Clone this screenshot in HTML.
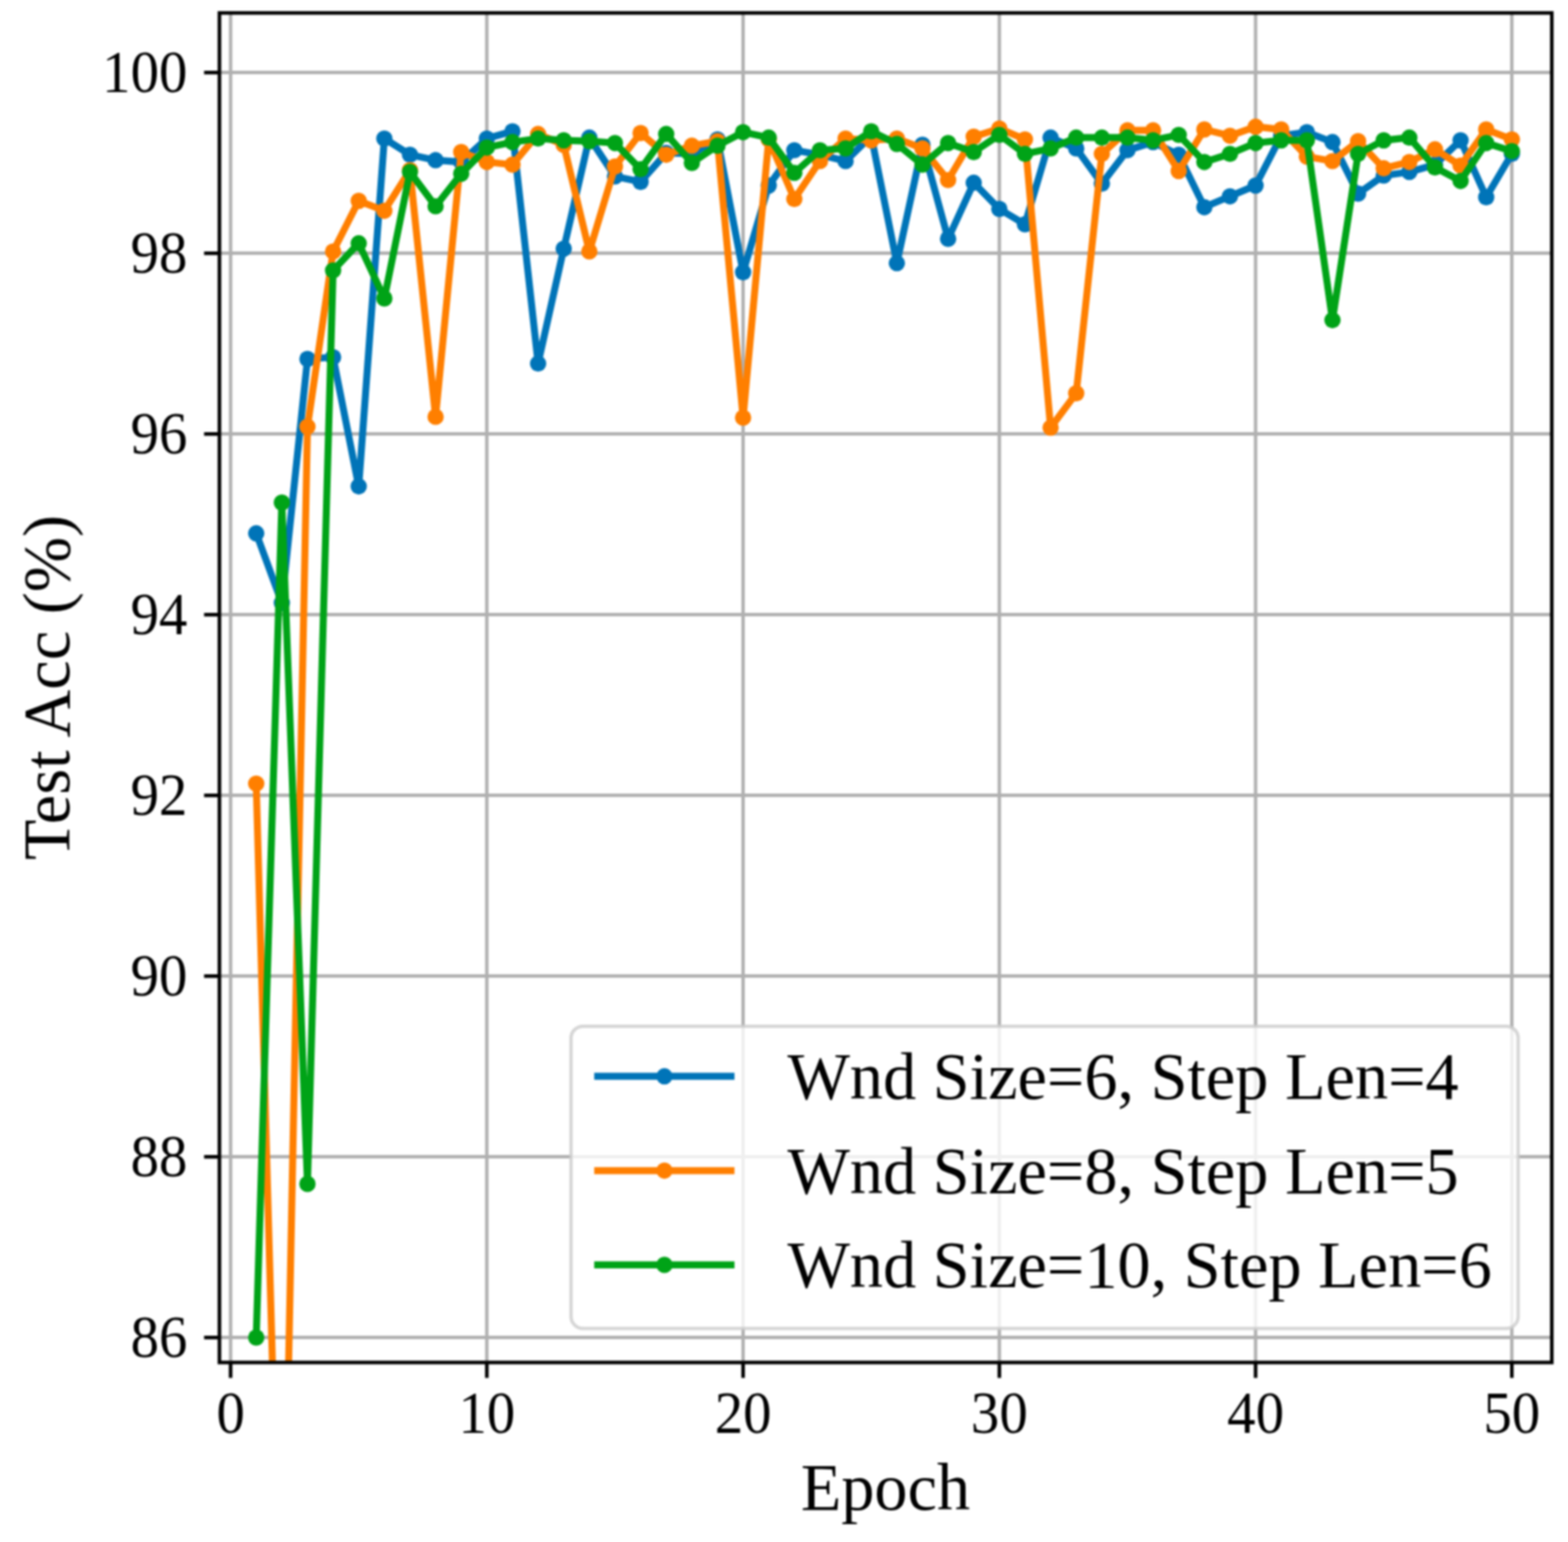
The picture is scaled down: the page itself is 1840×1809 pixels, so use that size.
<!DOCTYPE html>
<html><head><meta charset="utf-8"><title>Test Acc vs Epoch</title>
<style>html,body{margin:0;padding:0;background:#fff;} svg{display:block;} #wrap{filter:blur(0.8px);width:1840px;height:1809px;}</style>
</head><body>
<div id="wrap"><svg width="1840" height="1809" viewBox="0 0 1840 1809">
<rect x="0" y="0" width="1840" height="1809" fill="#ffffff"/>
<defs><clipPath id="ax"><rect x="257.5" y="15.2" width="1563.5" height="1583.2"/></clipPath></defs>
<path d="M270.60 15.2V1598.4M571.30 15.2V1598.4M872.00 15.2V1598.4M1172.70 15.2V1598.4M1473.40 15.2V1598.4M1774.10 15.2V1598.4M257.5 1569.10H1821.0M257.5 1357.10H1821.0M257.5 1145.10H1821.0M257.5 933.10H1821.0M257.5 721.10H1821.0M257.5 509.10H1821.0M257.5 297.10H1821.0M257.5 85.10H1821.0" stroke="#b0b0b0" stroke-width="4.0" fill="none" clip-path="url(#ax)"/>
<path d="M270.60 1598.4v18.0M571.30 1598.4v18.0M872.00 1598.4v18.0M1172.70 1598.4v18.0M1473.40 1598.4v18.0M1774.10 1598.4v18.0M257.5 1569.10h-18.0M257.5 1357.10h-18.0M257.5 1145.10h-18.0M257.5 933.10h-18.0M257.5 721.10h-18.0M257.5 509.10h-18.0M257.5 297.10h-18.0M257.5 85.10h-18.0" stroke="#000" stroke-width="4.2" fill="none"/>
<g clip-path="url(#ax)">
<path d="M300.67 625.70 L330.74 707.32 L360.81 421.12 L390.88 419.00 L420.95 570.58 L451.02 162.48 L481.09 181.56 L511.16 187.92 L541.23 190.04 L571.30 162.48 L601.37 154.00 L631.44 426.42 L661.51 291.80 L691.58 161.42 L721.65 207.00 L751.72 213.36 L781.79 179.44 L811.86 180.50 L841.93 163.54 L872.00 319.36 L902.07 217.60 L932.14 176.26 L962.21 181.56 L992.28 188.98 L1022.35 159.30 L1052.42 308.76 L1082.49 169.90 L1112.56 280.14 L1142.63 214.42 L1172.70 245.16 L1202.77 263.18 L1232.84 161.42 L1262.91 174.14 L1292.98 215.48 L1323.05 176.26 L1353.12 166.72 L1383.19 181.56 L1413.26 243.04 L1443.33 230.32 L1473.40 217.60 L1503.47 159.30 L1533.54 155.06 L1563.61 166.72 L1593.68 227.14 L1623.75 205.94 L1653.82 201.70 L1683.89 193.22 L1713.96 164.60 L1744.03 231.38 L1774.10 180.50" stroke="#0074b8" stroke-width="8.2" fill="none" stroke-linejoin="round" stroke-linecap="butt"/>
<g fill="#0074b8">
<circle cx="300.67" cy="625.70" r="9.6"/>
<circle cx="330.74" cy="707.32" r="9.6"/>
<circle cx="360.81" cy="421.12" r="9.6"/>
<circle cx="390.88" cy="419.00" r="9.6"/>
<circle cx="420.95" cy="570.58" r="9.6"/>
<circle cx="451.02" cy="162.48" r="9.6"/>
<circle cx="481.09" cy="181.56" r="9.6"/>
<circle cx="511.16" cy="187.92" r="9.6"/>
<circle cx="541.23" cy="190.04" r="9.6"/>
<circle cx="571.30" cy="162.48" r="9.6"/>
<circle cx="601.37" cy="154.00" r="9.6"/>
<circle cx="631.44" cy="426.42" r="9.6"/>
<circle cx="661.51" cy="291.80" r="9.6"/>
<circle cx="691.58" cy="161.42" r="9.6"/>
<circle cx="721.65" cy="207.00" r="9.6"/>
<circle cx="751.72" cy="213.36" r="9.6"/>
<circle cx="781.79" cy="179.44" r="9.6"/>
<circle cx="811.86" cy="180.50" r="9.6"/>
<circle cx="841.93" cy="163.54" r="9.6"/>
<circle cx="872.00" cy="319.36" r="9.6"/>
<circle cx="902.07" cy="217.60" r="9.6"/>
<circle cx="932.14" cy="176.26" r="9.6"/>
<circle cx="962.21" cy="181.56" r="9.6"/>
<circle cx="992.28" cy="188.98" r="9.6"/>
<circle cx="1022.35" cy="159.30" r="9.6"/>
<circle cx="1052.42" cy="308.76" r="9.6"/>
<circle cx="1082.49" cy="169.90" r="9.6"/>
<circle cx="1112.56" cy="280.14" r="9.6"/>
<circle cx="1142.63" cy="214.42" r="9.6"/>
<circle cx="1172.70" cy="245.16" r="9.6"/>
<circle cx="1202.77" cy="263.18" r="9.6"/>
<circle cx="1232.84" cy="161.42" r="9.6"/>
<circle cx="1262.91" cy="174.14" r="9.6"/>
<circle cx="1292.98" cy="215.48" r="9.6"/>
<circle cx="1323.05" cy="176.26" r="9.6"/>
<circle cx="1353.12" cy="166.72" r="9.6"/>
<circle cx="1383.19" cy="181.56" r="9.6"/>
<circle cx="1413.26" cy="243.04" r="9.6"/>
<circle cx="1443.33" cy="230.32" r="9.6"/>
<circle cx="1473.40" cy="217.60" r="9.6"/>
<circle cx="1503.47" cy="159.30" r="9.6"/>
<circle cx="1533.54" cy="155.06" r="9.6"/>
<circle cx="1563.61" cy="166.72" r="9.6"/>
<circle cx="1593.68" cy="227.14" r="9.6"/>
<circle cx="1623.75" cy="205.94" r="9.6"/>
<circle cx="1653.82" cy="201.70" r="9.6"/>
<circle cx="1683.89" cy="193.22" r="9.6"/>
<circle cx="1713.96" cy="164.60" r="9.6"/>
<circle cx="1744.03" cy="231.38" r="9.6"/>
<circle cx="1774.10" cy="180.50" r="9.6"/>
</g></g>
<g clip-path="url(#ax)">
<path d="M300.67 919.32 L330.74 1993.10 L360.81 500.62 L390.88 294.98 L420.95 235.62 L451.02 247.28 L481.09 199.58 L511.16 488.96 L541.23 178.38 L571.30 190.04 L601.37 193.22 L631.44 157.18 L661.51 169.90 L691.58 294.98 L721.65 195.34 L751.72 156.12 L781.79 181.56 L811.86 170.96 L841.93 165.66 L872.00 490.02 L902.07 163.54 L932.14 233.50 L962.21 188.98 L992.28 162.48 L1022.35 164.60 L1052.42 162.48 L1082.49 174.14 L1112.56 211.24 L1142.63 160.36 L1172.70 150.82 L1202.77 163.54 L1232.84 501.68 L1262.91 461.40 L1292.98 180.50 L1323.05 152.94 L1353.12 152.94 L1383.19 200.64 L1413.26 151.88 L1443.33 159.30 L1473.40 148.70 L1503.47 151.88 L1533.54 183.68 L1563.61 188.98 L1593.68 165.66 L1623.75 197.46 L1653.82 190.04 L1683.89 175.20 L1713.96 194.28 L1744.03 151.88 L1774.10 163.54" stroke="#ff7f00" stroke-width="8.2" fill="none" stroke-linejoin="round" stroke-linecap="butt"/>
<g fill="#ff7f00">
<circle cx="300.67" cy="919.32" r="9.6"/>
<circle cx="330.74" cy="1993.10" r="9.6"/>
<circle cx="360.81" cy="500.62" r="9.6"/>
<circle cx="390.88" cy="294.98" r="9.6"/>
<circle cx="420.95" cy="235.62" r="9.6"/>
<circle cx="451.02" cy="247.28" r="9.6"/>
<circle cx="481.09" cy="199.58" r="9.6"/>
<circle cx="511.16" cy="488.96" r="9.6"/>
<circle cx="541.23" cy="178.38" r="9.6"/>
<circle cx="571.30" cy="190.04" r="9.6"/>
<circle cx="601.37" cy="193.22" r="9.6"/>
<circle cx="631.44" cy="157.18" r="9.6"/>
<circle cx="661.51" cy="169.90" r="9.6"/>
<circle cx="691.58" cy="294.98" r="9.6"/>
<circle cx="721.65" cy="195.34" r="9.6"/>
<circle cx="751.72" cy="156.12" r="9.6"/>
<circle cx="781.79" cy="181.56" r="9.6"/>
<circle cx="811.86" cy="170.96" r="9.6"/>
<circle cx="841.93" cy="165.66" r="9.6"/>
<circle cx="872.00" cy="490.02" r="9.6"/>
<circle cx="902.07" cy="163.54" r="9.6"/>
<circle cx="932.14" cy="233.50" r="9.6"/>
<circle cx="962.21" cy="188.98" r="9.6"/>
<circle cx="992.28" cy="162.48" r="9.6"/>
<circle cx="1022.35" cy="164.60" r="9.6"/>
<circle cx="1052.42" cy="162.48" r="9.6"/>
<circle cx="1082.49" cy="174.14" r="9.6"/>
<circle cx="1112.56" cy="211.24" r="9.6"/>
<circle cx="1142.63" cy="160.36" r="9.6"/>
<circle cx="1172.70" cy="150.82" r="9.6"/>
<circle cx="1202.77" cy="163.54" r="9.6"/>
<circle cx="1232.84" cy="501.68" r="9.6"/>
<circle cx="1262.91" cy="461.40" r="9.6"/>
<circle cx="1292.98" cy="180.50" r="9.6"/>
<circle cx="1323.05" cy="152.94" r="9.6"/>
<circle cx="1353.12" cy="152.94" r="9.6"/>
<circle cx="1383.19" cy="200.64" r="9.6"/>
<circle cx="1413.26" cy="151.88" r="9.6"/>
<circle cx="1443.33" cy="159.30" r="9.6"/>
<circle cx="1473.40" cy="148.70" r="9.6"/>
<circle cx="1503.47" cy="151.88" r="9.6"/>
<circle cx="1533.54" cy="183.68" r="9.6"/>
<circle cx="1563.61" cy="188.98" r="9.6"/>
<circle cx="1593.68" cy="165.66" r="9.6"/>
<circle cx="1623.75" cy="197.46" r="9.6"/>
<circle cx="1653.82" cy="190.04" r="9.6"/>
<circle cx="1683.89" cy="175.20" r="9.6"/>
<circle cx="1713.96" cy="194.28" r="9.6"/>
<circle cx="1744.03" cy="151.88" r="9.6"/>
<circle cx="1774.10" cy="163.54" r="9.6"/>
</g></g>
<g clip-path="url(#ax)">
<path d="M300.67 1569.10 L330.74 589.66 L360.81 1388.90 L390.88 317.24 L420.95 285.44 L451.02 350.10 L481.09 201.70 L511.16 241.98 L541.23 203.82 L571.30 173.08 L601.37 166.72 L631.44 162.48 L661.51 164.60 L691.58 165.66 L721.65 167.78 L751.72 198.52 L781.79 157.18 L811.86 191.10 L841.93 170.96 L872.00 155.06 L902.07 161.42 L932.14 202.76 L962.21 176.26 L992.28 174.14 L1022.35 154.00 L1052.42 168.84 L1082.49 193.22 L1112.56 167.78 L1142.63 178.38 L1172.70 158.24 L1202.77 180.50 L1232.84 174.14 L1262.91 161.42 L1292.98 161.42 L1323.05 161.42 L1353.12 164.60 L1383.19 158.24 L1413.26 190.04 L1443.33 180.50 L1473.40 167.78 L1503.47 164.60 L1533.54 164.60 L1563.61 375.54 L1593.68 180.50 L1623.75 164.60 L1653.82 161.42 L1683.89 196.40 L1713.96 212.30 L1744.03 167.78 L1774.10 177.32" stroke="#00a317" stroke-width="8.2" fill="none" stroke-linejoin="round" stroke-linecap="butt"/>
<g fill="#00a317">
<circle cx="300.67" cy="1569.10" r="9.6"/>
<circle cx="330.74" cy="589.66" r="9.6"/>
<circle cx="360.81" cy="1388.90" r="9.6"/>
<circle cx="390.88" cy="317.24" r="9.6"/>
<circle cx="420.95" cy="285.44" r="9.6"/>
<circle cx="451.02" cy="350.10" r="9.6"/>
<circle cx="481.09" cy="201.70" r="9.6"/>
<circle cx="511.16" cy="241.98" r="9.6"/>
<circle cx="541.23" cy="203.82" r="9.6"/>
<circle cx="571.30" cy="173.08" r="9.6"/>
<circle cx="601.37" cy="166.72" r="9.6"/>
<circle cx="631.44" cy="162.48" r="9.6"/>
<circle cx="661.51" cy="164.60" r="9.6"/>
<circle cx="691.58" cy="165.66" r="9.6"/>
<circle cx="721.65" cy="167.78" r="9.6"/>
<circle cx="751.72" cy="198.52" r="9.6"/>
<circle cx="781.79" cy="157.18" r="9.6"/>
<circle cx="811.86" cy="191.10" r="9.6"/>
<circle cx="841.93" cy="170.96" r="9.6"/>
<circle cx="872.00" cy="155.06" r="9.6"/>
<circle cx="902.07" cy="161.42" r="9.6"/>
<circle cx="932.14" cy="202.76" r="9.6"/>
<circle cx="962.21" cy="176.26" r="9.6"/>
<circle cx="992.28" cy="174.14" r="9.6"/>
<circle cx="1022.35" cy="154.00" r="9.6"/>
<circle cx="1052.42" cy="168.84" r="9.6"/>
<circle cx="1082.49" cy="193.22" r="9.6"/>
<circle cx="1112.56" cy="167.78" r="9.6"/>
<circle cx="1142.63" cy="178.38" r="9.6"/>
<circle cx="1172.70" cy="158.24" r="9.6"/>
<circle cx="1202.77" cy="180.50" r="9.6"/>
<circle cx="1232.84" cy="174.14" r="9.6"/>
<circle cx="1262.91" cy="161.42" r="9.6"/>
<circle cx="1292.98" cy="161.42" r="9.6"/>
<circle cx="1323.05" cy="161.42" r="9.6"/>
<circle cx="1353.12" cy="164.60" r="9.6"/>
<circle cx="1383.19" cy="158.24" r="9.6"/>
<circle cx="1413.26" cy="190.04" r="9.6"/>
<circle cx="1443.33" cy="180.50" r="9.6"/>
<circle cx="1473.40" cy="167.78" r="9.6"/>
<circle cx="1503.47" cy="164.60" r="9.6"/>
<circle cx="1533.54" cy="164.60" r="9.6"/>
<circle cx="1563.61" cy="375.54" r="9.6"/>
<circle cx="1593.68" cy="180.50" r="9.6"/>
<circle cx="1623.75" cy="164.60" r="9.6"/>
<circle cx="1653.82" cy="161.42" r="9.6"/>
<circle cx="1683.89" cy="196.40" r="9.6"/>
<circle cx="1713.96" cy="212.30" r="9.6"/>
<circle cx="1744.03" cy="167.78" r="9.6"/>
<circle cx="1774.10" cy="177.32" r="9.6"/>
</g></g>
<rect x="257.5" y="15.2" width="1563.5" height="1583.2" fill="none" stroke="#000" stroke-width="4.2" stroke-linejoin="miter"/>
<g font-family='"Liberation Serif", "Times New Roman", serif' font-size="66.7" fill="#000"><text transform="translate(270.60 1681.4) scale(1 1.05)" text-anchor="middle">0</text><text transform="translate(571.30 1681.4) scale(1 1.05)" text-anchor="middle">10</text><text transform="translate(872.00 1681.4) scale(1 1.05)" text-anchor="middle">20</text><text transform="translate(1172.70 1681.4) scale(1 1.05)" text-anchor="middle">30</text><text transform="translate(1473.40 1681.4) scale(1 1.05)" text-anchor="middle">40</text><text transform="translate(1774.10 1681.4) scale(1 1.05)" text-anchor="middle">50</text><text transform="translate(219.9 1592.30) scale(1 1.05)" text-anchor="end">86</text><text transform="translate(219.9 1380.30) scale(1 1.05)" text-anchor="end">88</text><text transform="translate(219.9 1168.30) scale(1 1.05)" text-anchor="end">90</text><text transform="translate(219.9 956.30) scale(1 1.05)" text-anchor="end">92</text><text transform="translate(219.9 744.30) scale(1 1.05)" text-anchor="end">94</text><text transform="translate(219.9 532.30) scale(1 1.05)" text-anchor="end">96</text><text transform="translate(219.9 320.30) scale(1 1.05)" text-anchor="end">98</text><text transform="translate(219.9 108.30) scale(1 1.05)" text-anchor="end">100</text></g>
<g font-family='"Liberation Serif", "Times New Roman", serif' font-size="77.8" fill="#000">
<text x="1039.0" y="1770.9" text-anchor="middle">Epoch</text>
<text transform="translate(80.7 806.5) rotate(-90)" x="0" y="0" text-anchor="middle">Test Acc (%)</text>
</g>
<rect x="670.1" y="1203.9" width="1111.4" height="354.5999999999999" rx="14" ry="14" fill="#ffffff" fill-opacity="0.8" stroke="#cccccc" stroke-opacity="0.8" stroke-width="4"/>
<path d="M697.3 1262.7H861.9" stroke="#0074b8" stroke-width="8.2" fill="none"/>
<circle cx="779.7" cy="1262.7" r="9.6" fill="#0074b8"/>
<text x="923.9" y="1289.2" font-family='"Liberation Serif", "Times New Roman", serif' font-size="77.8" fill="#000">Wnd Size=6, Step Len=4</text>
<path d="M697.3 1373.3H861.9" stroke="#ff7f00" stroke-width="8.2" fill="none"/>
<circle cx="779.7" cy="1373.3" r="9.6" fill="#ff7f00"/>
<text x="923.9" y="1399.8" font-family='"Liberation Serif", "Times New Roman", serif' font-size="77.8" fill="#000">Wnd Size=8, Step Len=5</text>
<path d="M697.3 1483.9H861.9" stroke="#00a317" stroke-width="8.2" fill="none"/>
<circle cx="779.7" cy="1483.9" r="9.6" fill="#00a317"/>
<text x="923.9" y="1510.4" font-family='"Liberation Serif", "Times New Roman", serif' font-size="77.8" fill="#000">Wnd Size=10, Step Len=6</text>
</svg></div>
</body></html>
